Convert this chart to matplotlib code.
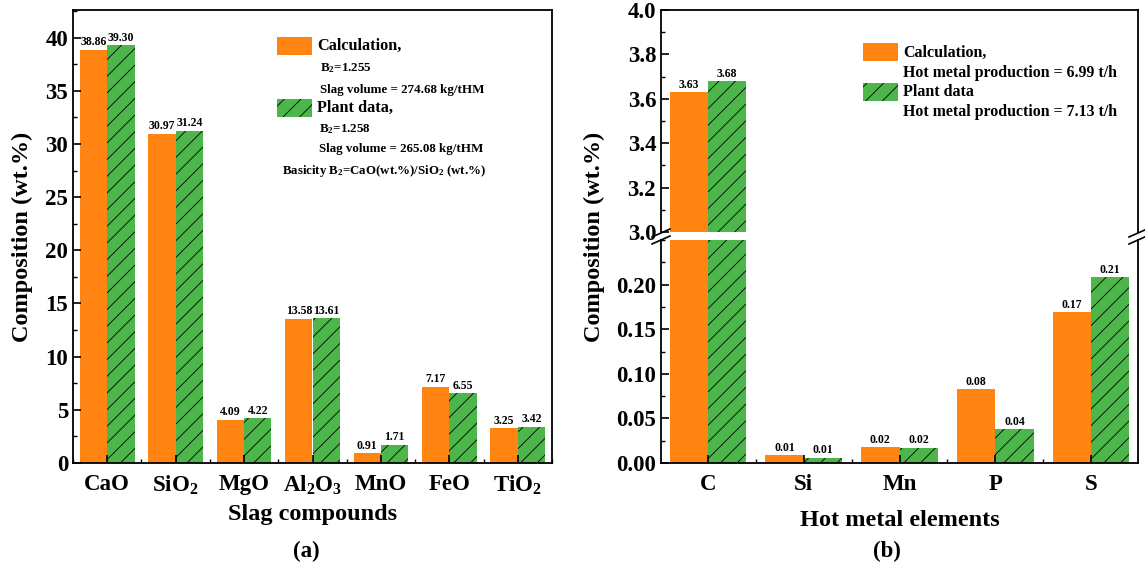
import numpy as np
import matplotlib
matplotlib.use('Agg')
import matplotlib.pyplot as plt
from matplotlib.patches import Rectangle
from matplotlib.ticker import MultipleLocator, FormatStrFormatter

plt.rcParams['font.family'] = ['Liberation Serif', 'DejaVu Serif']
plt.rcParams['font.weight'] = 'bold'
plt.rcParams['mathtext.fontset'] = 'custom'
plt.rcParams['mathtext.rm'] = 'Liberation Serif:bold'
plt.rcParams['mathtext.it'] = 'Liberation Serif:bold'
plt.rcParams['mathtext.bf'] = 'Liberation Serif:bold'
plt.rcParams['mathtext.default'] = 'rm'
plt.rcParams['hatch.linewidth'] = 0.6

# (a) slag
slag_names = ['CaO', 'SiO$_2$', 'MgO', 'Al$_2$O$_3$', 'MnO', 'FeO', 'TiO$_2$']
slag_calc = [38.86, 30.97, 4.09, 13.58, 0.91, 7.17, 3.25]
slag_plant = [39.30, 31.24, 4.22, 13.61, 1.71, 6.55, 3.42]

# (b) hot metal
hm_names = ['C', 'Si', 'Mn', 'P', 'S']
hm_calc = [3.63, 0.009, 0.018, 0.083, 0.169]
hm_plant = [3.68, 0.006, 0.017, 0.038, 0.208]

orange = '#FF8412'
green = '#4DB64A'
W = 0.4

fig = plt.figure(figsize=(11.45, 5.71), dpi=100)
H = 571.0
Wd = 1145.0

def fx(px):
    return px / Wd

def fy(py):
    return 1 - py / H

def style(ax):
    for s in ax.spines.values():
        s.set_linewidth(1.3)
    ax.tick_params(direction='in', which='major', length=6, width=1.2, labelsize=16.5)
    ax.tick_params(direction='in', which='minor', length=3, width=1.0)
    ax.tick_params(axis='x', which='major', pad=8)
    for lab in ax.get_xticklabels() + ax.get_yticklabels():
        lab.set_fontweight('bold')

def draw_bars(ax, x, calc, plant):
    b1 = ax.bar(x - W / 2, calc, W, color=orange, edgecolor='none')
    b2 = ax.bar(x + W / 2, plant, W, color=green, edgecolor='none')
    ax.bar(x + W / 2, plant, W, fill=False, hatch='//', edgecolor='black', linewidth=0)
    return b1, b2

# ---- panel (a)
ax1 = fig.add_axes([fx(73), fy(463), fx(552) - fx(73), fy(10) - fy(463)])
x1 = np.arange(len(slag_names))
b1, b2 = draw_bars(ax1, x1, slag_calc, slag_plant)
ax1.bar_label(b1, fmt='%.2f', padding=1, fontsize=8.5, fontweight='bold')
ax1.bar_label(b2, fmt='%.2f', padding=1, fontsize=8.5, fontweight='bold')
ax1.set_xlim(-0.5, 6.5)
ax1.set_ylim(0, 42.6)
ax1.set_xticks(x1)
ax1.set_xticklabels(slag_names)
ax1.xaxis.set_minor_locator(MultipleLocator(0.5))
ax1.yaxis.set_major_locator(MultipleLocator(5))
ax1.yaxis.set_minor_locator(MultipleLocator(2.5))
style(ax1)
ax1.set_xlabel('Slag compounds', fontsize=17.5, fontweight='bold', labelpad=5)
fig.text(fx(22), fy(237), 'Composition (wt.%)', rotation=90, fontsize=17.5,
         fontweight='bold', ha='center', va='center')

# legend (a)
def legend_box(px, py, col, hatch=None):
    r = Rectangle((fx(px), fy(py + 18)), fx(35), 18 / H, transform=fig.transFigure,
                  facecolor=col, edgecolor='none')
    fig.patches.append(r)
    if hatch:
        r2 = Rectangle((fx(px), fy(py + 18)), fx(35), 18 / H, transform=fig.transFigure,
                       fill=False, hatch=hatch, edgecolor='black', linewidth=0)
        fig.patches.append(r2)

legend_box(277, 37, orange)
fig.text(fx(317), fy(46), 'Calculation,', fontsize=11.7, fontweight='bold', va='center')
fig.text(fx(320), fy(68), 'B$_2$=1.255', fontsize=9.4, fontweight='bold', va='center')
fig.text(fx(320), fy(90), 'Slag volume = 274.68 kg/tHM', fontsize=9.4, fontweight='bold', va='center')
legend_box(277, 99, green, '//')
fig.text(fx(317), fy(108), 'Plant data,', fontsize=11.7, fontweight='bold', va='center')
fig.text(fx(319), fy(129), 'B$_2$=1.258', fontsize=9.4, fontweight='bold', va='center')
fig.text(fx(319), fy(149), 'Slag volume = 265.08 kg/tHM', fontsize=9.4, fontweight='bold', va='center')
fig.text(fx(282), fy(171), 'Basicity B$_2$=CaO(wt.%)/SiO$_2$ (wt.%)', fontsize=9.3, fontweight='bold', va='center')

# ---- panel (b), broken axis
axl = fig.add_axes([fx(661), fy(463), fx(1138) - fx(661), fy(240) - fy(463)])
axu = fig.add_axes([fx(661), fy(232), fx(1138) - fx(661), fy(10) - fy(232)], sharex=axl)
x2 = np.arange(len(hm_names))
for ax in (axl, axu):
    b1, b2 = draw_bars(ax, x2, hm_calc, hm_plant)
    lo, hi = (0, 0.25) if ax is axl else (3.0, 4.0)
    lab1 = ['%.2f' % v if lo <= v <= hi else '' for v in hm_calc]
    lab2 = ['%.2f' % v if lo <= v <= hi else '' for v in hm_plant]
    ax.bar_label(b1, labels=lab1, padding=1, fontsize=8.5, fontweight='bold')
    ax.bar_label(b2, labels=lab2, padding=1, fontsize=8.5, fontweight='bold')
    ax.set_ylim(lo, hi)

axl.set_xlim(-0.49, 4.49)
axl.set_xticks(x2)
axl.set_xticklabels(hm_names)
axl.xaxis.set_minor_locator(MultipleLocator(0.5))
axl.set_yticks(np.arange(0, 0.201, 0.05))
axl.yaxis.set_minor_locator(MultipleLocator(0.025))
axl.yaxis.set_major_formatter(FormatStrFormatter('%.2f'))
axu.set_yticks(np.arange(3.0, 4.01, 0.2))
axu.yaxis.set_minor_locator(MultipleLocator(0.1))
axu.yaxis.set_major_formatter(FormatStrFormatter('%.1f'))
style(axl)
style(axu)
axl.spines['top'].set_visible(False)
axu.spines['bottom'].set_visible(False)
axu.tick_params(axis='x', which='both', bottom=False, labelbottom=False)
axl.set_xlabel('Hot metal elements', fontsize=17.5, fontweight='bold', labelpad=11)
fig.text(fx(594), fy(237), 'Composition (wt.%)', rotation=90, fontsize=17.5,
         fontweight='bold', ha='center', va='center')

# break marks
for xb in (661, 1138):
    for yb in (233, 240):
        fig.add_artist(plt.Line2D([fx(xb - 9), fx(xb + 9)], [fy(yb + 4), fy(yb - 4)],
                                  transform=fig.transFigure, color='black', linewidth=1.2))

# legend (b)
legend_box(863, 43, orange)
fig.text(fx(903), fy(53), 'Calculation,', fontsize=11.5, fontweight='bold', va='center')
fig.text(fx(903), fy(73), 'Hot metal production = 6.99 t/h', fontsize=11.4, fontweight='bold', va='center')
legend_box(863, 83, green, '//')
fig.text(fx(903), fy(92), 'Plant data', fontsize=11.5, fontweight='bold', va='center')
fig.text(fx(903), fy(112), 'Hot metal production = 7.13 t/h', fontsize=11.4, fontweight='bold', va='center')

fig.text(fx(306), fy(551), '(a)', fontsize=16.5, fontweight='bold', ha='center', va='center')
fig.text(fx(887), fy(551), '(b)', fontsize=16.5, fontweight='bold', ha='center', va='center')

fig.savefig('out.png', dpi=100)
